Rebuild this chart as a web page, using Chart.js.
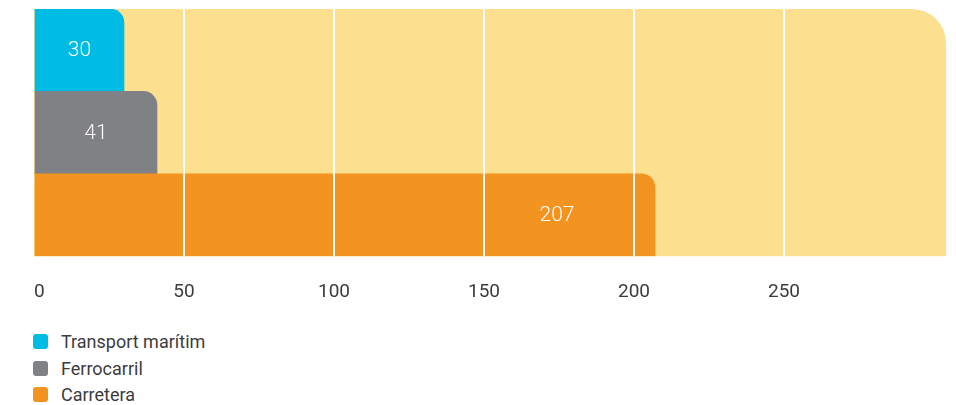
<!DOCTYPE html>
<html><head><meta charset="utf-8">
<script src="https://cdn.jsdelivr.net/npm/chart.js@4/dist/chart.umd.min.js"></script>
<style>
html,body{margin:0;padding:0;background:#fff;}
#wrap{position:relative;width:956px;height:405px;overflow:hidden;}
#chartBox{position:absolute;left:0;top:0;width:956px;height:314px;}
#legend{position:absolute;left:33px;top:328px;font-family:Roboto,"Noto Sans",sans-serif;font-size:18px;color:#3c3c3c;}
.item{display:flex;align-items:center;height:26.7px;white-space:nowrap;}
.box{width:15px;height:15px;border-radius:3px;margin-right:13px;flex:none;}
</style></head>
<body><div id="wrap"><div id="chartBox"><canvas id="c"></canvas></div><div id="legend"></div></div>
<script>
const categories = ['Transport marítim', 'Ferrocarril', 'Carretera'];
const values = [30, 41, 207];
const tickValues = [0, 50, 100, 150, 200, 250];
const colors = ['#00BCE4', '#808184', '#F39320'];
const axisMax = 304;

const bgPlugin = {
  id: 'bg',
  beforeDraw(chart) {
    const {ctx, chartArea: a} = chart;
    const r = 34;
    ctx.save();
    ctx.fillStyle = '#FDE08F';
    ctx.beginPath();
    ctx.moveTo(a.left, a.top);
    ctx.lineTo(a.right - r, a.top);
    ctx.arcTo(a.right, a.top, a.right, a.top + r, r);
    ctx.lineTo(a.right, a.bottom);
    ctx.lineTo(a.left, a.bottom);
    ctx.closePath();
    ctx.fill();
    ctx.restore();
  }
};

const labelPlugin = {
  id: 'vals',
  afterDraw(chart) {
    const {ctx} = chart;
    const meta = chart.getDatasetMeta(0);
    ctx.save();
    ctx.fillStyle = '#ffffff';
    ctx.font = '300 21px Roboto';
    ctx.textAlign = 'center';
    ctx.textBaseline = 'middle';
    meta.data.forEach((bar, i) => {
      const x = Math.max((bar.x + bar.base) / 2, bar.x - 98);
      ctx.fillText(String(chart.data.datasets[0].data[i]), x, bar.y + 1);
    });
    ctx.restore();
  }
};

const htmlLegend = {
  id: 'htmlLegend',
  afterUpdate(chart) {
    const el = document.getElementById('legend');
    el.innerHTML = '';
    chart.data.labels.forEach((lab, i) => {
      const item = document.createElement('div');
      item.className = 'item';
      const box = document.createElement('span');
      box.className = 'box';
      box.style.background = chart.data.datasets[0].backgroundColor[i];
      const t = document.createElement('span');
      t.textContent = lab;
      item.appendChild(box); item.appendChild(t);
      el.appendChild(item);
    });
  }
};

new Chart(document.getElementById('c'), {
  type: 'bar',
  data: {
    labels: categories,
    datasets: [{
      data: values,
      backgroundColor: colors,
      borderRadius: {topRight: 14, bottomRight: 0, topLeft: 0, bottomLeft: 0},
      borderSkipped: 'start',
      barPercentage: 1,
      categoryPercentage: 1
    }]
  },
  options: {
    indexAxis: 'y',
    responsive: true,
    maintainAspectRatio: false,
    animation: false,
    layout: {padding: {left: 34, right: 10, top: 9, bottom: 0}},
    scales: {
      x: {
        min: 0, max: axisMax,
        border: {display: false},
        grid: {
          z: 1,
          lineWidth: 2,
          drawTicks: true,
          tickLength: 15,
          tickColor: 'rgba(0,0,0,0)',
          color: c => (c.tick && c.tick.value !== 0 && tickValues.includes(c.tick.value)) ? '#ffffff' : 'rgba(0,0,0,0)'
        },
        ticks: {
          stepSize: 50,
          autoSkip: false,
          maxRotation: 0,
          align: 'inner',
          padding: 10,
          color: '#3c3c3c',
          font: {family: 'Roboto', size: 19},
          callback: v => tickValues.includes(v) ? String(v) : ''
        }
      },
      y: {display: false}
    },
    plugins: {legend: {display: false}, tooltip: {enabled: false}}
  },
  plugins: [bgPlugin, labelPlugin, htmlLegend]
});
</script>
</body></html>
